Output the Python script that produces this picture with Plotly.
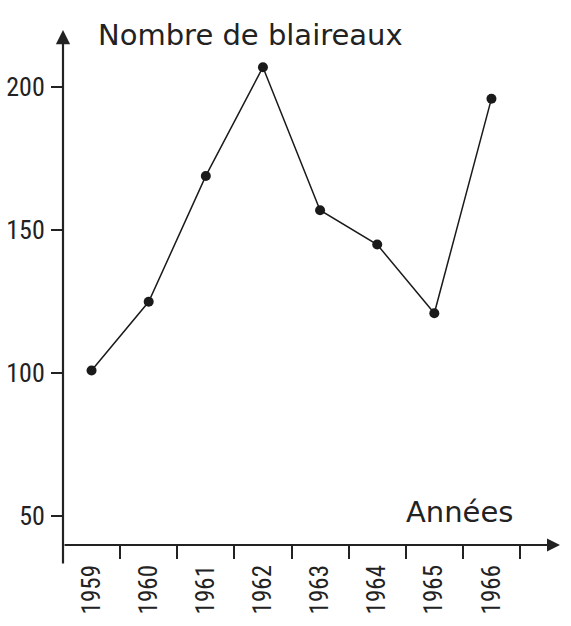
import plotly.graph_objects as go

years = [1959, 1960, 1961, 1962, 1963, 1964, 1965, 1966]
badgers = [101, 125, 169, 207, 157, 145, 121, 196]
y_ticks = [50, 100, 150, 200]
half_ticks = [y + 0.5 for y in years]

num_font = "Roboto Condensed, DejaVu Sans Condensed, sans-serif"
title_font = "DejaVu Sans, sans-serif"

fig = go.Figure()
fig.add_trace(go.Scatter(
    x=years, y=badgers, mode="lines+markers",
    line=dict(color="#1a1a1a", width=1.5),
    marker=dict(size=10, color="#1a1a1a"),
    showlegend=False, cliponaxis=False,
))
fig.add_trace(go.Scatter(x=[years[0]], y=[badgers[0]], xaxis="x2", mode="markers",
                         marker=dict(opacity=0), showlegend=False, hoverinfo="skip"))

xr = [1958.5, 1967.2]
fig.update_layout(
    width=571, height=626,
    margin=dict(l=63, r=11, t=30, b=81),
    paper_bgcolor="white", plot_bgcolor="white",
    xaxis=dict(range=xr, tickvals=years, ticktext=[str(y) for y in years],
               tickangle=-90, ticks="", showgrid=False, zeroline=False, showline=False,
               tickfont=dict(family=num_font, size=25, color="#222"),
               ticklabelstandoff=14, automargin=False),
    xaxis2=dict(range=xr, overlaying="x", side="bottom", tickvals=half_ticks,
                ticks="outside", ticklen=13, tickwidth=2, tickcolor="#222",
                showticklabels=False, showgrid=False, zeroline=False, showline=False,
                automargin=False),
    yaxis=dict(range=[40, 220], tickvals=y_ticks, ticks="outside", ticklen=11,
               tickwidth=2, tickcolor="#222", showgrid=False, zeroline=False,
               showline=False, automargin=False,
               tickfont=dict(family=num_font, size=26, color="#222"),
               ticklabelstandoff=1),
    annotations=[
        dict(xref="paper", yref="paper", x=0, y=1, ax=0, ay=535,
             showarrow=True, arrowhead=2, arrowsize=1.3, arrowwidth=2.2,
             arrowcolor="#222", text=""),
        dict(xref="paper", yref="paper", x=1, y=0, ax=-497, ay=0,
             showarrow=True, arrowhead=2, arrowsize=1.3, arrowwidth=2,
             arrowcolor="#222", text=""),
        dict(xref="paper", yref="paper", x=0.066, y=0.99, xanchor="left", yanchor="middle",
             text="Nombre de blaireaux", showarrow=False,
             font=dict(family=title_font, size=29, color="#222")),
        dict(xref="paper", yref="paper", x=0.91, y=0.064, xanchor="right", yanchor="middle",
             text="Années", showarrow=False,
             font=dict(family=title_font, size=29, color="#222")),
    ],
)
fig.write_html("out.html", config={"displayModeBar": False},
               post_script="document.body.style.margin='0';")
